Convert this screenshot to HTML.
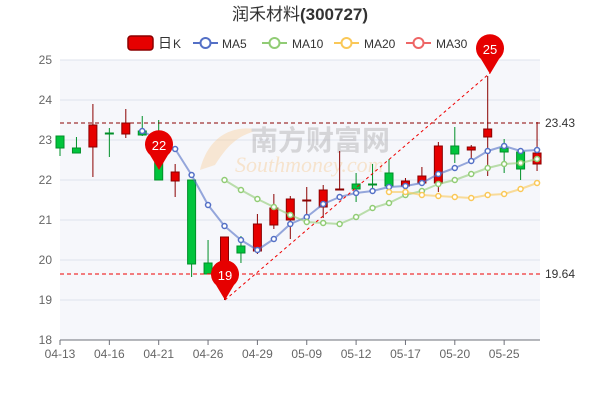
<!DOCTYPE html>
<html><head><meta charset="utf-8"><style>
body{margin:0;background:#fff;}
svg{display:block;font-family:"Liberation Sans","Noto Sans CJK SC",sans-serif;}
</style></head><body>
<svg id="s" width="600" height="400" xmlns="http://www.w3.org/2000/svg">
<rect width="600" height="400" fill="#fff"/>
<text x="300" y="20" text-anchor="middle" font-size="17" fill="#333">润禾材料<tspan font-weight="bold">(300727)</tspan></text>
<g font-size="12" fill="#333">
<rect x="128" y="36" width="25" height="14" rx="3" fill="#e60000" stroke="#8b0000" stroke-width="1.5"/>
<text x="158" y="48" font-size="14">日</text><text x="173" y="48">K</text>
<line x1="193" y1="43" x2="218" y2="43" stroke="#5470c6" stroke-width="2"/><circle cx="205.5" cy="43" r="5" fill="#fff" stroke="#5470c6" stroke-width="2"/><text x="222" y="48">MA5</text>
<line x1="262" y1="43" x2="287" y2="43" stroke="#91cc75" stroke-width="2"/><circle cx="274.5" cy="43" r="5" fill="#fff" stroke="#91cc75" stroke-width="2"/><text x="292" y="48">MA10</text>
<line x1="334" y1="43" x2="359" y2="43" stroke="#fac858" stroke-width="2"/><circle cx="346.5" cy="43" r="5" fill="#fff" stroke="#fac858" stroke-width="2"/><text x="364" y="48">MA20</text>
<line x1="406" y1="43" x2="431" y2="43" stroke="#ee6666" stroke-width="2"/><circle cx="418.5" cy="43" r="5" fill="#fff" stroke="#ee6666" stroke-width="2"/><text x="436" y="48">MA30</text>
</g>
<rect x="60" y="60" width="480" height="280" fill="#f6f7fb"/>
<g id="grid"></g>
<g opacity="0.35">
<path d="M200 170 C210 130,240 125,260 130 C235 135,225 150,215 165 Z" fill="#fbc98a"/>
<text x="250" y="150" font-size="28" fill="#999" font-weight="bold">南方财富网</text>
<text x="235" y="172" font-size="22" fill="#f7c07a" font-style="italic" font-family="Liberation Serif,serif">Southmoney.com</text>
</g>
<g id="c"></g>
<g id="m"></g>
<line x1="60" y1="123" x2="540" y2="123" stroke="#8b0000" stroke-dasharray="4,3"/>
<line x1="60" y1="274" x2="540" y2="274" stroke="#e00" stroke-dasharray="4,3"/>
<text x="545" y="127" font-size="12" fill="#333">23.43</text>
<text x="545" y="278" font-size="12" fill="#333">19.64</text>
<line x1="225" y1="300" x2="490" y2="73" stroke="#e00" stroke-dasharray="3,3"/>
<g id="pins"></g>
<g id="ax" font-size="12" fill="#666"></g>
</svg>
<script>
var NS="http://www.w3.org/2000/svg";
function el(p,t,a,txt){var e=document.createElementNS(NS,t);for(var k in a)e.setAttribute(k,a[k]);if(txt!=null)e.textContent=txt;document.getElementById(p).appendChild(e);return e;}
for(var i=0;i<8;i++){var y=60+i*40;el('grid','line',{x1:60,x2:540,y1:y,y2:y,stroke:'#dfe3ee'});el('ax','text',{x:52,y:y+4,'text-anchor':'end'},25-i);}
el('ax','line',{x1:60,x2:540,y1:340,y2:340,stroke:'#6e7079'});
var labs=['04-13','04-16','04-21','04-26','04-29','05-09','05-12','05-17','05-20','05-25'];
labs.forEach(function(l,k){var x=60+k*3*16.45;el('ax','line',{x1:x,x2:x,y1:340,y2:345,stroke:'#6e7079'});el('ax','text',{x:x,y:358,'text-anchor':'middle'},l);});
// [top,bottom,high,low,red]
var C=[[136,148,136,156,0],[148,153,137,153,0],[125,147,104,177,1],[133,134,128,157,0],[123,134,109,138,1],[131,135,116,136,0],[160,180,120,180,0],[172,181,164,197,1],[180,264,180,277,0],[263,274,240,274,0],[237,275,237,300,1],[246,253,236,263,0],[224,251,214,254,1],[208,225,194,229,1],[199,220,196,239,1],[200,201,187,215,1],[190,207,185,218,1],[189,190,151,190,1],[184,189,173,202,0],[184,185,164,190,0],[173,186,159,186,0],[181,186,178,186,1],[176,183,167,183,1],[146,183,142,192,1],[146,154,127,163,0],[147,150,145,160,1],[129,137,76,176,1],[148,152,139,173,0],[152,169,152,180,0],[153,164,122,171,1]];
C.forEach(function(c,i){var x=60+i*16.45;var col=c[4]?'#e60000':'#00c43c';var sc=c[4]?'#8b0000':'#008f28';
el('c','line',{x1:x,x2:x,y1:c[2],y2:c[3],stroke:sc,'stroke-width':1});
el('c','rect',{x:x-4,y:c[0],width:8,height:Math.max(1,c[1]-c[0]),fill:col,stroke:sc,'stroke-width':1});});
function ma(pts,col,r){var d='';pts.forEach(function(p,k){d+=(k?'L':'M')+p[0]+' '+p[1];});
el('m','path',{d:d,fill:'none',stroke:col,'stroke-width':2,opacity:0.6,'stroke-linejoin':'round'});
pts.forEach(function(p){el('m','circle',{cx:p[0],cy:p[1],r:r,fill:'#fff',stroke:col,'stroke-width':1.5});});}
function X(i){return 60+i*16.45;}
var m5=[131,140,149,175,205,226,240,250,239,224,217,204,197,193,191,187,186,183,174,168,161,151,146,151,150];
ma(m5.map(function(y,k){return [X(k+5),y];}),'#5470c6',2.5);
var m10=[180,190,199,207,215,222,223,224,217,208,203,195,191,184,180,174,168,164,163,159];
ma(m10.map(function(y,k){return [X(k+10),y];}),'#91cc75',2.5);
var m20=[192,192,195,196,197,198,195,194,189,183];
ma(m20.map(function(y,k){return [X(k+20),y];}),'#fac858',2.5);
function pin(x,ty,t){var cy=ty-25;el('pins','path',{d:'M'+x+' '+ty+' L'+(x-9)+' '+(cy+10)+' A14 14 0 1 1 '+(x+9)+' '+(cy+10)+' Z',fill:'#e60000'});
el('pins','text',{x:x,y:cy+5,'text-anchor':'middle','font-size':13,fill:'#fff'},t);}
pin(159,170,'22');pin(225,300,'19');pin(490,74,'25');
</script>
</body></html>
